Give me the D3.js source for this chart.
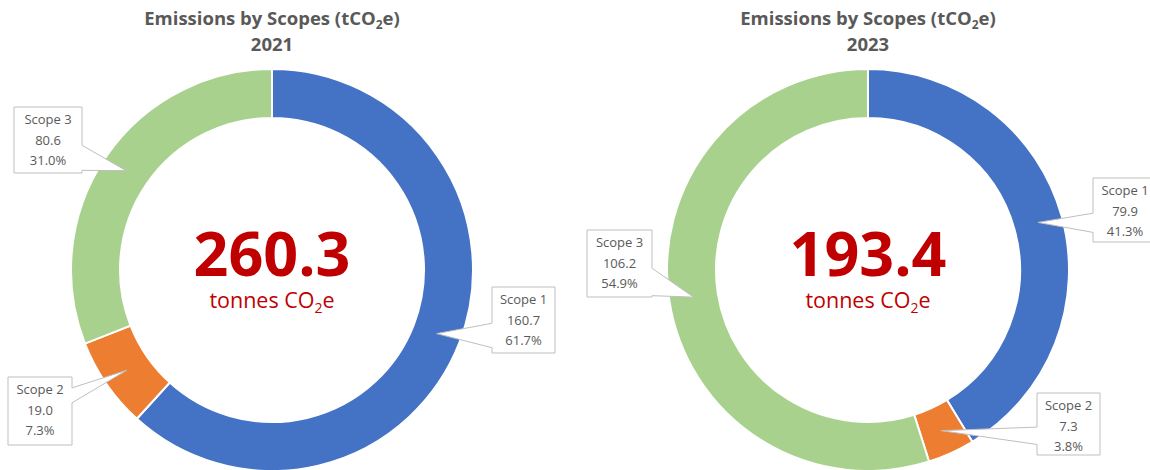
<!DOCTYPE html>
<html>
<head>
<meta charset="utf-8">
<script src="https://cdn.jsdelivr.net/npm/d3@7"></script>
<style>
  body { margin: 0; background: #fff; }
  svg { display: block; font-family: "Open Sans", sans-serif; }
</style>
</head>
<body>
<script>
// data
var scopes = ['Scope 1', 'Scope 2', 'Scope 3'];
var years = ['2021', '2023'];
var values2021 = [160.7, 19.0, 80.6];
var values2023 = [79.9, 7.3, 106.2];
var totals = [260.3, 193.4];
var colors = ['#4472c4', '#ed7d31', '#a9d18e'];

var width = 1150;
var height = 470;
var outerR = 201;
var innerR = 152;

// callout boxes, relative to each donut centre: dx, dy, w, h, side, base fractions
var calloutLayout = [
  [
    { dx: 220, dy: 17, w: 63, h: 66, side: 'left', f: [0.55, 0.92] },
    { dx: -264, dy: 107, w: 64, h: 68, side: 'right', f: [0.16, 0.38] },
    { dx: -258, dy: -163, w: 68, h: 66, side: 'right', f: [0.58, 0.96] }
  ],
  [
    { dx: 225, dy: -92, w: 64, h: 64, side: 'left', f: [0.55, 0.85] },
    { dx: 169, dy: 123, w: 63, h: 62, side: 'left', f: [0.55, 0.83] },
    { dx: -281, dy: -40, w: 65, h: 67, side: 'right', f: [0.57, 0.98] }
  ]
];

var centres = [{ x: 272, y: 270 }, { x: 868, y: 270 }];

var svg = d3.select('body').append('svg')
  .attr('width', width)
  .attr('height', height);

var pie = d3.pie().sort(null).value(function(d) { return d; });
var arc = d3.arc().innerRadius(innerR).outerRadius(outerR);
var fmt = d3.format('.1f');
var pct = d3.format('.1%');

var calloutPath = function(b, tip) {
  var x0 = b.x, y0 = b.y, x1 = b.x + b.w, y1 = b.y + b.h;
  var p = d3.path();
  if (b.side === 'right') {
    var ya = y0 + b.f[0] * b.h, yb = y0 + b.f[1] * b.h;
    p.moveTo(x0, y0); p.lineTo(x1, y0); p.lineTo(x1, ya);
    p.lineTo(tip[0], tip[1]); p.lineTo(x1, yb); p.lineTo(x1, y1);
    p.lineTo(x0, y1); p.closePath();
  } else {
    var yc = y0 + b.f[0] * b.h, yd = y0 + b.f[1] * b.h;
    p.moveTo(x0, y0); p.lineTo(x1, y0); p.lineTo(x1, y1);
    p.lineTo(x0, y1); p.lineTo(x0, yd);
    p.lineTo(tip[0], tip[1]); p.lineTo(x0, yc); p.closePath();
  }
  return p.toString();
};

var drawDonut = function(values, i) {
  var c = centres[i];
  var total = d3.sum(values);
  var g = svg.append('g').attr('transform', 'translate(' + c.x + ',' + c.y + ')');

  var arcs = pie(values);
  g.selectAll('path.slice')
    .data(arcs)
    .enter().append('path')
    .attr('class', 'slice')
    .attr('d', arc)
    .attr('fill', function(d, j) { return colors[j]; })
    .attr('stroke', '#fff')
    .attr('stroke-width', 2);

  // title
  var title = svg.append('text')
    .attr('x', c.x).attr('y', 25)
    .attr('text-anchor', 'middle')
    .attr('font-size', 18.5).attr('font-weight', 'bold')
    .attr('fill', '#595959');
  title.append('tspan').text('Emissions by Scopes (tCO');
  title.append('tspan').text('2').attr('font-size', 12).attr('dy', 4);
  title.append('tspan').text('e)').attr('dy', -4);
  svg.append('text')
    .attr('x', c.x).attr('y', 51)
    .attr('text-anchor', 'middle')
    .attr('font-size', 18.5).attr('font-weight', 'bold')
    .attr('fill', '#595959')
    .text(years[i]);

  // centre
  g.append('text')
    .attr('y', 6)
    .attr('text-anchor', 'middle')
    .attr('font-size', 61).attr('font-weight', 'bold')
    .attr('fill', '#c00000')
    .text(fmt(totals[i]));
  var unit = g.append('text')
    .attr('y', 38)
    .attr('text-anchor', 'middle')
    .attr('font-size', 21.5)
    .attr('fill', '#c00000');
  unit.append('tspan').text('tonnes CO');
  unit.append('tspan').text('2').attr('font-size', 14).attr('dy', 5);
  unit.append('tspan').text('e').attr('dy', -5);

  // callouts
  var labelR = (innerR + outerR) / 2;
  var labelArc = d3.arc().innerRadius(labelR).outerRadius(labelR);
  arcs.forEach(function(d, j) {
    var L = calloutLayout[i][j];
    var b = { x: L.dx, y: L.dy, w: L.w, h: L.h, side: L.side, f: L.f };
    var tip = labelArc.centroid(d);
    g.append('path')
      .attr('d', calloutPath(b, tip))
      .attr('fill', '#fff')
      .attr('stroke', '#bfbfbf')
      .attr('stroke-width', 1);
    var lines = [scopes[j], fmt(values[j]), pct(values[j] / total)];
    g.selectAll(null)
      .data(lines)
      .enter().append('text')
      .attr('x', b.x + b.w / 2)
      .attr('y', function(t, k) { return b.y + 17 + k * 20.5; })
      .attr('text-anchor', 'middle')
      .attr('font-size', 13)
      .attr('fill', '#595959')
      .text(function(t) { return t; });
  });
};

drawDonut(values2021, 0);
drawDonut(values2023, 1);
</script>
</body>
</html>
